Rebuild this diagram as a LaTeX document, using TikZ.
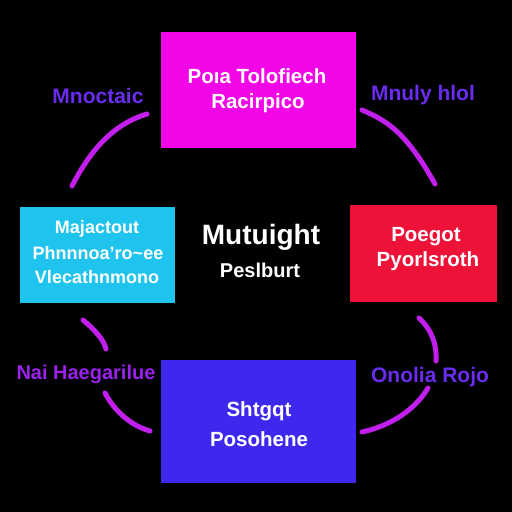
\documentclass[tikz,border=0pt]{standalone}
\usepackage{fontspec}
\setmainfont{Liberation Sans}
\definecolor{bmag}{HTML}{F205E6}
\definecolor{bcyan}{HTML}{1EC3EE}
\definecolor{bred}{HTML}{EE1238}
\definecolor{bblue}{HTML}{3E28EE}
\definecolor{lblA}{HTML}{6A2CF0}
\definecolor{lblB}{HTML}{9A22EE}
\definecolor{arcc}{HTML}{C21EEE}
\begin{document}
\begin{tikzpicture}[x=1pt,y=-1pt,
  boxst/.style={draw=none,anchor=north west,inner sep=0pt},
  boxtxt/.style={text=white,font=\fontsize{20.5}{22}\selectfont\bfseries,align=center},
  lefttxt/.style={text=white,font=\fontsize{18}{20}\selectfont\bfseries},
  lbl/.style={font=\fontsize{21}{23}\selectfont\bfseries},
  arcst/.style={draw=arcc,line width=5pt,line cap=round}]
\fill[black] (0,0) rectangle (512,512);
\useasboundingbox (0,0) rectangle (512,512);
% boxes
\node[boxst,fill=bmag,minimum width=195pt,minimum height=116pt] (top) at (161,32) {};
\node[boxst,fill=bcyan,minimum width=155pt,minimum height=96pt] (left) at (20,207) {};
\node[boxst,fill=bred,minimum width=147pt,minimum height=97pt] (right) at (350,205) {};
\node[boxst,fill=bblue,minimum width=195pt,minimum height=123pt] (bot) at (161,360) {};
% box texts
\node[boxtxt] (t1) at (257,76) {Poıa Tolofiech};
\node[boxtxt] (t2) at (258,103) {Racirpico};
\node[lefttxt] (l1) at (97,229) {Majactout};
\node[lefttxt] (l2) at (98,253) {Phnnnoa'ro\textasciitilde ee};
\node[lefttxt] (l3) at (97,277) {Vlecathnmono};
\node[boxtxt] (r1) at (426,237) {Poegot};
\node[boxtxt] (r2) at (428,261) {Pyorlsroth};
\node[boxtxt] (b1) at (259,411) {Shtgqt};
\node[boxtxt] (b2) at (259,439) {Posohene};
% centre
\node[text=white,font=\fontsize{28}{30}\selectfont\bfseries] (c1) at (261,237) {Mutuight};
\node[text=white,font=\fontsize{20}{22}\selectfont\bfseries] (c2) at (260,270) {Peslburt};
% labels
\node[lbl,text=lblA] (la) at (98,96) {Mnoctaic};
\node[lbl,text=lblA] (lb) at (423,95) {Mnuly hlol};
\node[lbl,text=lblB,font=\fontsize{20}{22}\selectfont\bfseries] (lc) at (86,374) {Nai Haegarilue};
\node[lbl,text=lblA] (ld) at (430,377) {Onolia Rojo};
% arc endpoints
\coordinate (a1s) at (147,114);
\coordinate (a1e) at (72,186);
\coordinate (a2s) at (362,110);
\coordinate (a2e) at (435,184);
\coordinate (a3s) at (83,320);
\coordinate (a3e) at (106,349);
\coordinate (a4s) at (105,393);
\coordinate (a4e) at (150,431);
\coordinate (a5s) at (419,318);
\coordinate (a5e) at (436,361);
\coordinate (a6s) at (428,388);
\coordinate (a6e) at (362,432);
% arcs
\draw[arcst] (a1s) .. controls (110,125) and (88,155) .. (a1e);
\draw[arcst] (a2s) .. controls (385,120) and (405,130) .. (a2e);
\draw[arcst] (a3s) .. controls (95,330) and (104,340) .. (a3e);
\draw[arcst] (a4s) .. controls (115,412) and (132,426) .. (a4e);
\draw[arcst] (a5s) .. controls (432,330) and (437,345) .. (a5e);
\draw[arcst] (a6s) .. controls (415,410) and (390,426) .. (a6e);
\end{tikzpicture}
\end{document}
